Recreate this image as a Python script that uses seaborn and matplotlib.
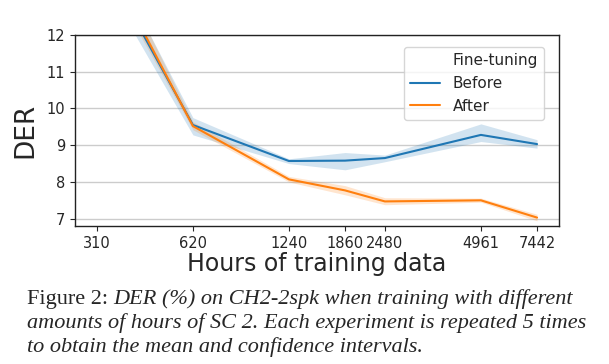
import numpy as np
import pandas as pd
import seaborn as sns
import matplotlib.pyplot as plt
from matplotlib.lines import Line2D
from matplotlib.ticker import NullLocator

hours = [310, 620, 1240, 1860, 2480, 4961, 7442]

before_mean = [14.3, 9.55, 8.57, 8.58, 8.65, 9.28, 9.03]
before_lo = [13.8, 9.28, 8.50, 8.33, 8.55, 9.10, 8.92]
before_hi = [14.8, 9.75, 8.63, 8.80, 8.73, 9.58, 9.15]

after_mean = [14.5, 9.52, 8.07, 7.77, 7.47, 7.50, 7.03]
after_lo = [14.1, 9.42, 8.00, 7.65, 7.38, 7.45, 6.94]
after_hi = [14.9, 9.64, 8.15, 7.90, 7.57, 7.56, 7.12]

df = pd.DataFrame({
    'hours': hours * 2,
    'DER': before_mean + after_mean,
    'Fine-tuning': ['Before'] * len(hours) + ['After'] * len(hours),
})

sns.set_style('ticks')
plt.rcParams['font.family'] = ['DejaVu Sans']

fig = plt.figure(figsize=(6.09, 3.64), dpi=100)
ax = fig.add_axes([0.123, 0.379, 0.795, 0.525])

palette = {'Before': '#1f77b4', 'After': '#ff7f0e'}
sns.lineplot(data=df, x='hours', y='DER', hue='Fine-tuning', palette=palette,
             ax=ax, linewidth=1.5, legend=False)
ax.fill_between(hours, before_lo, before_hi, color=palette['Before'], alpha=0.2, lw=0)
ax.fill_between(hours, after_lo, after_hi, color=palette['After'], alpha=0.2, lw=0)

ax.set_xscale('log')
ax.set_xticks(hours)
ax.set_xticklabels([str(h) for h in hours], fontsize=10.5)
ax.xaxis.set_minor_locator(NullLocator())
ax.set_ylim(6.8, 12)
ax.set_yticks([7, 8, 9, 10, 11, 12])
ax.tick_params(axis='y', labelsize=10.5)
ax.yaxis.grid(True, color='#cccccc', linewidth=1)
ax.set_axisbelow(True)
for s in ax.spines.values():
    s.set_color('#222222')
    s.set_linewidth(1)

ax.set_xlabel('Hours of training data', fontsize=17, labelpad=1)
ax.set_ylabel('DER', fontsize=19, labelpad=6)

handles = [Line2D([], [], color='none'),
           Line2D([], [], color=palette['Before'], lw=1.5),
           Line2D([], [], color=palette['After'], lw=1.5)]
ax.legend(handles, ['Fine-tuning', 'Before', 'After'], loc='upper right',
          fontsize=11, frameon=True, bbox_to_anchor=(0.985, 0.975))

cap_font = ['Liberation Serif', 'DejaVu Serif']
cap_size = 16
x0 = 0.044
t1 = fig.text(x0, 0.165, 'Figure 2: ', family=cap_font, fontsize=cap_size,
              va='baseline')
fig.canvas.draw()
bb = t1.get_window_extent(renderer=fig.canvas.get_renderer())
x2 = bb.x1 / fig.bbox.width
fig.text(x2, 0.165, 'DER (%) on CH2-2spk when training with different',
         family=cap_font, fontsize=cap_size, style='italic', va='baseline')
fig.text(x0, 0.099, 'amounts of hours of SC 2. Each experiment is repeated 5 times',
         family=cap_font, fontsize=cap_size, style='italic', va='baseline')
fig.text(x0, 0.033, 'to obtain the mean and confidence intervals.',
         family=cap_font, fontsize=cap_size, style='italic', va='baseline')

fig.savefig('out.png', dpi=100)
